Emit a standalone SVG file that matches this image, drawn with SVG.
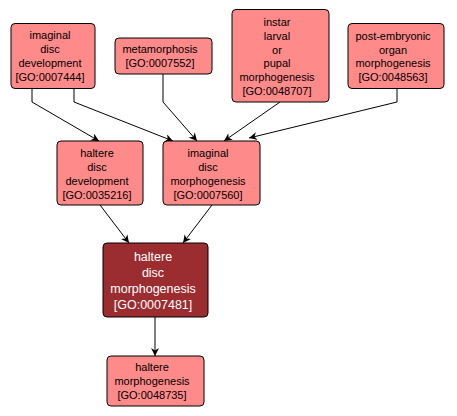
<svg xmlns="http://www.w3.org/2000/svg" width="457" height="416" viewBox="0 0 457 416">
<defs>
<style>
.n rect{fill:#ff8a8a;stroke:#000;stroke-width:1}
.n text{font-family:"Liberation Sans",Arial,sans-serif;font-size:11px;fill:#000;text-anchor:middle}
.d rect{fill:#9b2d30;stroke:#000;stroke-width:1}
.d text{font-family:"Liberation Sans",Arial,sans-serif;font-size:12.5px;fill:#fff;text-anchor:middle}
.e path{fill:none;stroke:#000;stroke-width:1;marker-end:url(#ah)}
</style>
<marker id="ah" viewBox="0 0 10 10" refX="10" refY="5" markerWidth="9" markerHeight="8" markerUnits="userSpaceOnUse" orient="auto">
<path d="M0,0 L10,5 L0,10 L3,5 z" fill="#000"/>
</marker>
</defs>
<rect width="457" height="416" fill="#fff"/>
<g id="connectors" class="e">
<path d="M32,88 L32,102 L99,141"/>
<path d="M74,88 L74,102 L173,141"/>
<path d="M163,74 L163,102 L197,141"/>
<path d="M280,102 L224,141"/>
<path d="M397,88 L397,102 L249,138"/>
<path d="M100,205 L129,243"/>
<path d="M212,205 L183,243"/>
<path d="M155,317 L155,356"/>
</g>
<g id="GO0007444" class="n">
<rect x="11" y="23.5" width="84" height="65" rx="4"/>
<text x="50" y="39">imaginal</text>
<text x="50" y="53">disc</text>
<text x="50" y="67">development</text>
<text x="50" y="81">[GO:0007444]</text>
</g>
<g id="GO0007552" class="n">
<rect x="115" y="38" width="97" height="36" rx="4"/>
<text x="160" y="53">metamorphosis</text>
<text x="160" y="67">[GO:0007552]</text>
</g>
<g id="GO0048707" class="n">
<rect x="232" y="9.5" width="97" height="92.5" rx="4"/>
<text x="277" y="26">instar</text>
<text x="277" y="40">larval</text>
<text x="277" y="54">or</text>
<text x="277" y="67">pupal</text>
<text x="277" y="81">morphogenesis</text>
<text x="277" y="95">[GO:0048707]</text>
</g>
<g id="GO0048563" class="n">
<rect x="348" y="23.5" width="96" height="65" rx="4"/>
<text x="393" y="40">post-embryonic</text>
<text x="393" y="54">organ</text>
<text x="393" y="67">morphogenesis</text>
<text x="393" y="81">[GO:0048563]</text>
</g>
<g id="GO0035216" class="n">
<rect x="57" y="141" width="86" height="64" rx="4"/>
<text x="97" y="157">haltere</text>
<text x="97" y="171">disc</text>
<text x="97" y="185">development</text>
<text x="97" y="199">[GO:0035216]</text>
</g>
<g id="GO0007560" class="n">
<rect x="163" y="141" width="97" height="64" rx="4"/>
<text x="208" y="157">imaginal</text>
<text x="208" y="171">disc</text>
<text x="208" y="185">morphogenesis</text>
<text x="208" y="199">[GO:0007560]</text>
</g>
<g id="GO0007481" class="d">
<rect x="103" y="243" width="105" height="74" rx="4"/>
<text x="153" y="261">haltere</text>
<text x="153" y="277">disc</text>
<text x="153" y="293">morphogenesis</text>
<text x="153" y="309">[GO:0007481]</text>
</g>
<g id="GO0048735" class="n">
<rect x="107" y="356" width="97" height="50" rx="4"/>
<text x="152" y="371">haltere</text>
<text x="152" y="385">morphogenesis</text>
<text x="152" y="399">[GO:0048735]</text>
</g>
</svg>
